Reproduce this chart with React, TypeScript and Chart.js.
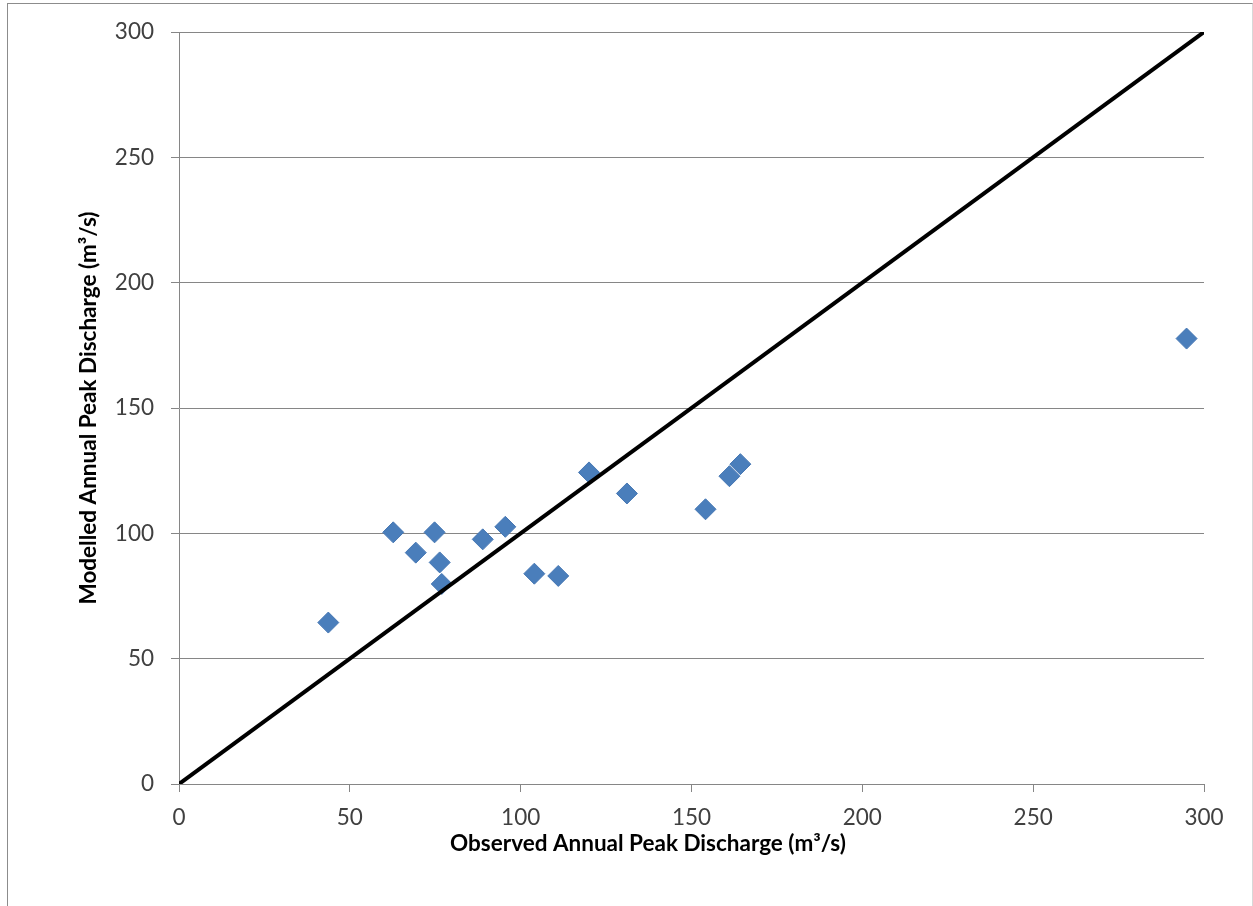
import React, { useEffect, useRef } from "react";
import { Chart, registerables } from "chart.js";

Chart.register(...registerables);

const observed = [43.7, 62.7, 69.3, 74.8, 76.3, 76.9, 88.9, 95.5, 104.0, 111.0, 120.0, 131.1, 154.1, 161.1, 164.3, 294.9];
const modelled = [64.4, 100.4, 92.3, 100.4, 88.4, 79.8, 97.6, 102.6, 83.9, 83.0, 124.3, 115.9, 109.6, 122.8, 127.6, 177.7];
const lineX = [0, 300];
const lineY = [0, 300];
const xTitle = "Observed Annual Peak Discharge (m³/s)";
const yTitle = "Modelled Annual Peak Discharge (m³/s)";

const FONT = "Lato, 'Open Sans', sans-serif";

const titlePlugin = {
  id: "axisTitles",
  afterDraw(chart: any) {
    const ctx = chart.ctx;
    ctx.save();
    ctx.fillStyle = "#000";
    ctx.font = `bold 22.5px ${FONT}`;
    ctx.textAlign = "center";
    ctx.textBaseline = "alphabetic";
    ctx.fillText(xTitle, 648, 851);
    const ca = chart.chartArea;
    ctx.translate(96, (ca.top + ca.bottom) / 2);
    ctx.rotate(-Math.PI / 2);
    ctx.fillText(yTitle, 0, 0);
    ctx.restore();
  },
};

export default function App() {
  const ref = useRef<HTMLCanvasElement | null>(null);
  useEffect(() => {
    if (!ref.current) return;
    const points = observed.map((x, i) => ({ x, y: modelled[i] }));
    const line = lineX.map((x, i) => ({ x, y: lineY[i] }));
    const gray = "#868686";
    const chart = new Chart(ref.current, {
      type: "scatter",
      data: {
        datasets: [
          {
            label: "1:1",
            data: line,
            showLine: true,
            borderColor: "#000",
            borderWidth: 4,
            pointRadius: 0,
            order: 0,
          },
          {
            label: "Peaks",
            data: points,
            pointStyle: "rectRot",
            pointRadius: 10.5,
            backgroundColor: "#4A7EBB",
            borderColor: "#4677B3",
            borderWidth: 1,
            order: 1,
          },
        ],
      },
      options: {
        responsive: false,
        animation: false,
        layout: { padding: { left: 0, top: 32, right: 49, bottom: 0 } },
        plugins: { legend: { display: false }, tooltip: { enabled: false }, title: { display: false } },
        scales: {
          x: {
            type: "linear",
            min: 0,
            max: 300,
            afterFit: (s: any) => { s.height = 122; },
            ticks: { stepSize: 50, color: "#404040", font: { family: FONT, size: 22.5 }, padding: 12, maxRotation: 0 },
            grid: { drawOnChartArea: false, drawTicks: true, tickLength: 8, color: gray },
            border: { display: true, color: gray, width: 1 },
          },
          y: {
            type: "linear",
            min: 0,
            max: 300,
            afterFit: (s: any) => { s.width = 179; },
            ticks: { stepSize: 50, color: "#404040", font: { family: FONT, size: 22.5 }, padding: 17 },
            grid: { drawOnChartArea: true, drawTicks: true, tickLength: 8, color: gray, lineWidth: 1 },
            border: { display: true, color: gray, width: 1 },
          },
        },
      },
      plugins: [titlePlugin],
    });
    return () => chart.destroy();
  }, []);

  return (
    <div style={{ position: "fixed", left: 0, top: 0, width: 1253, height: 906, background: "#fff", overflow: "hidden" }}>
      <div style={{ position: "absolute", left: 7, top: 3, width: 1244, height: 920, borderLeft: "1px solid #8c8c8c", borderTop: "1px solid #8c8c8c", borderRight: "1px solid #d8d8d8" }} />
      <canvas ref={ref} width={1253} height={906} style={{ position: "absolute", left: 0, top: 0 }} />
    </div>
  );
}
